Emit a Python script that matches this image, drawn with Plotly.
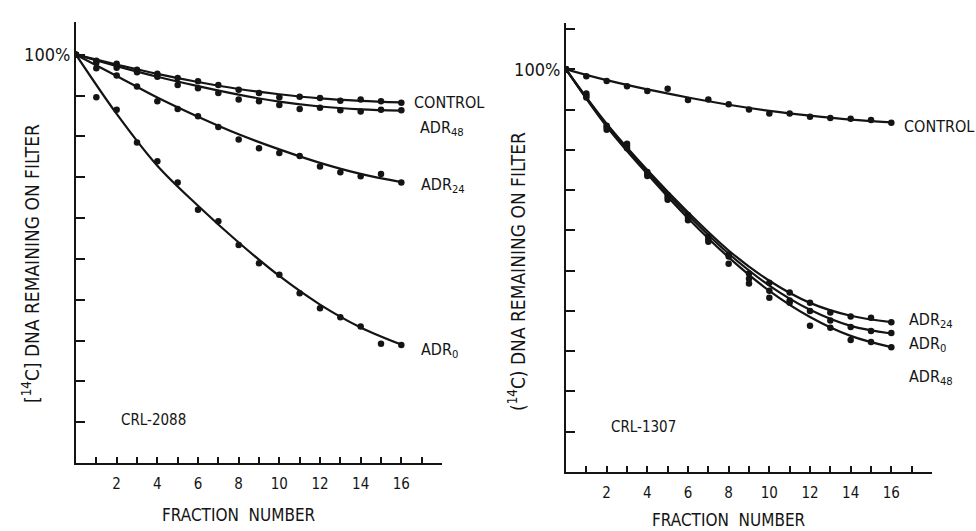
import plotly.graph_objects as go

# ---------------- data ----------------
fractions = list(range(0, 17))
fit_fractions = [0, 2, 4, 6, 8, 10, 12, 14, 16]

# Left panel: CRL-2088 (measured points)
l_control = [100, 98.5, 97.8, 96.3, 95.3, 94.3, 93.5, 92.6, 91.4, 90.6, 89.6, 89.7, 89.4, 88.7, 89.0, 88.6, 88.2]
l_adr48 = [100, 98.0, 96.8, 95.7, 94.6, 92.6, 91.8, 90.6, 89.0, 88.6, 87.7, 86.7, 87.0, 86.4, 86.1, 86.5, 86.4]
l_adr24 = [100, 96.7, 94.9, 92.2, 88.6, 86.7, 84.9, 82.3, 79.2, 77.1, 75.9, 75.2, 72.6, 71.2, 70.2, 70.8, 68.7]
l_adr0 = [100, 89.6, 86.5, 78.5, 73.9, 68.7, 62.0, 59.2, 53.4, 48.9, 46.1, 41.6, 37.9, 35.7, 33.4, 29.2, 28.9]
# Left panel fitted curves
l_control_fit = [100, 97.6, 95.3, 93.3, 91.6, 90.3, 89.3, 88.7, 88.3]
l_adr48_fit = [100, 97.2, 94.6, 92.3, 90.2, 88.5, 87.3, 86.6, 86.3]
l_adr24_fit = [100, 94.8, 89.5, 84.8, 80.5, 76.8, 73.5, 70.8, 68.8]
l_adr0_fit = [100, 85.5, 72.8, 63.0, 54.0, 45.8, 38.8, 33.2, 29.0]

# Right panel: CRL-1307 (measured points)
r_control = [100, 98.3, 97.1, 95.8, 94.6, 95.2, 92.4, 92.5, 91.3, 90.0, 89.0, 89.0, 88.2, 87.9, 87.7, 87.4, 86.7]
r_adr24 = [100, 94.0, 86.0, 81.5, 74.5, 68.8, 63.8, 58.5, 54.0, 49.3, 47.0, 44.6, 42.0, 39.6, 38.6, 38.3, 37.2]
r_adr0 = [100, 93.5, 85.6, 81.0, 74.0, 68.2, 63.2, 57.8, 53.5, 48.0, 45.0, 42.6, 40.0, 37.6, 36.0, 35.0, 34.5]
r_adr48 = [100, 93.0, 85.0, 80.4, 73.5, 67.6, 62.5, 57.2, 51.7, 46.8, 43.3, 42.0, 36.3, 35.8, 32.8, 32.3, 31.0]
# Right panel fitted curves
r_control_fit = [100, 97.3, 95.0, 93.0, 91.2, 89.7, 88.5, 87.5, 86.8]
r_adr24_fit = [100, 86.5, 75.0, 64.5, 55.0, 47.5, 42.0, 38.8, 37.2]
r_adr0_fit = [100, 86.2, 74.5, 63.8, 54.2, 46.3, 40.3, 36.3, 34.4]
r_adr48_fit = [100, 85.8, 74.0, 63.0, 53.3, 45.0, 38.5, 33.8, 31.0]

x_label_vals = [2, 4, 6, 8, 10, 12, 14, 16]
x_label_text = ["2", "4", "6", "8", "10", "12", "14", "16"]
y_label_vals = [100]
y_label_text = ["100%"]

# ---------------- figure ----------------
INK = "#141414"
FONT = "DejaVu Sans Condensed, Liberation Sans Narrow, sans-serif"

fig = go.Figure()

def add_series(pts, fit, xa, ya):
    fig.add_trace(go.Scatter(x=fit_fractions, y=fit, mode="lines",
                             line=dict(color=INK, width=2.2, shape="spline", smoothing=1.0),
                             xaxis=xa, yaxis=ya, showlegend=False, hoverinfo="skip"))
    fig.add_trace(go.Scatter(x=fractions, y=pts, mode="markers",
                             marker=dict(color=INK, size=6.5),
                             xaxis=xa, yaxis=ya, showlegend=False))

for pts, fit in [(l_control, l_control_fit), (l_adr48, l_adr48_fit),
                 (l_adr24, l_adr24_fit), (l_adr0, l_adr0_fit)]:
    add_series(pts, fit, "x", "y")
for pts, fit in [(r_control, r_control_fit), (r_adr24, r_adr24_fit),
                 (r_adr0, r_adr0_fit), (r_adr48, r_adr48_fit)]:
    add_series(pts, fit, "x2", "y2")

W, H = 976, 531

def xaxis_cfg(dom):
    return dict(domain=dom, range=[0, 18], showline=True, linecolor=INK, linewidth=2,
                showgrid=False, zeroline=False, tickmode="array", tickvals=x_label_vals,
                ticktext=x_label_text, ticks="inside", ticklen=6, tickwidth=1.5,
                tickcolor=INK, ticklabelstandoff=6,
                minor=dict(tick0=0, dtick=1, ticks="inside", ticklen=6, tickwidth=1.5,
                           tickcolor=INK, showgrid=False),
                tickfont=dict(family=FONT, size=15, color=INK))

def yaxis_cfg(dom, top, anchor):
    return dict(domain=dom, range=[0, top], anchor=anchor, showline=True, linecolor=INK,
                linewidth=2, showgrid=False, zeroline=False, tickmode="array",
                tickvals=y_label_vals, ticktext=y_label_text, ticks="inside", ticklen=9,
                tickwidth=1.5, tickcolor=INK, ticklabelstandoff=0,
                minor=dict(tick0=0, dtick=10, ticks="inside", ticklen=9, tickwidth=1.5,
                           tickcolor=INK, showgrid=False),
                tickfont=dict(family=FONT, size=18, color=INK))

fig.update_layout(
    width=W, height=H,
    margin=dict(l=0, r=0, t=0, b=0),
    paper_bgcolor="white", plot_bgcolor="white",
    xaxis=dict(**xaxis_cfg([76 / W, 442 / W]), anchor="y"),
    yaxis=yaxis_cfg([(H - 463) / H, (H - 22) / H], 108, "x"),
    xaxis2=dict(**xaxis_cfg([566 / W, 932 / W]), anchor="y2"),
    yaxis2=yaxis_cfg([(H - 472) / H, (H - 23) / H], 111.5, "x2"),
    font=dict(family=FONT, color=INK, size=15),
)

ann = []
def label(text, x, y, xref, yref, size=16, **kw):
    ann.append(dict(text=text, x=x, y=y, xref=xref, yref=yref, showarrow=False,
                    xanchor=kw.get("xanchor", "left"), yanchor=kw.get("yanchor", "middle"),
                    textangle=kw.get("textangle", 0),
                    font=dict(family=FONT, size=size, color=INK)))

# series labels - left
label("CONTROL", 16.5, 88.4, "x", "y")
label("ADR<sub>48</sub>", 16.8, 82.0, "x", "y")
label("ADR<sub>24</sub>", 16.85, 68.0, "x", "y")
label("ADR<sub>0</sub>", 16.85, 27.5, "x", "y")
label("CRL-2088", 2.1, 10.5, "x", "y", size=15)
# series labels - right
label("CONTROL", 16.5, 85.8, "x2", "y2")
label("ADR<sub>24</sub>", 16.75, 37.5, "x2", "y2")
label("ADR<sub>0</sub>", 16.75, 31.7, "x2", "y2")
label("ADR<sub>48</sub>", 16.75, 23.5, "x2", "y2")
label("CRL-1307", 2.1, 11.2, "x2", "y2", size=15)

# axis titles
label("FRACTION  NUMBER", 239 / W, (H - 515) / H, "paper", "paper", size=17, xanchor="center")
label("FRACTION  NUMBER", 729 / W, (H - 520) / H, "paper", "paper", size=17, xanchor="center")
label("[<sup>14</sup>C] DNA REMAINING ON FILTER", 31 / W, (H - 264) / H, "paper", "paper",
      size=19, xanchor="center", textangle=-90)
label("(<sup>14</sup>C) DNA REMAINING ON FILTER", 517 / W, (H - 272) / H, "paper", "paper",
      size=19, xanchor="center", textangle=-90)

fig.update_layout(annotations=ann)
fig.write_html("out.html", config={"displayModeBar": False},
               post_script="document.body.style.margin='0px';")
